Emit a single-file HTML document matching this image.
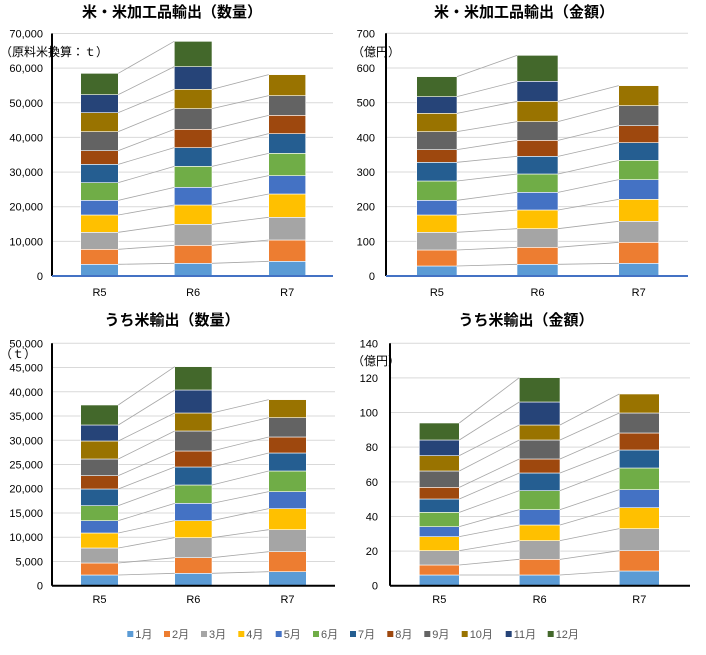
<!DOCTYPE html>
<html><head><meta charset="utf-8"><style>
body{margin:0;background:#fff;}
svg text{font-family:"Liberation Sans","Noto Sans CJK JP",sans-serif;}
</style></head><body>
<svg id="s" width="706" height="650" xmlns="http://www.w3.org/2000/svg"></svg>
<script>
const C=["#5B9BD5","#ED7D31","#A5A5A5","#FFC000","#4472C4","#70AD47","#255E91","#9E480E","#636363","#997300","#264478","#43682B"];
const charts=[
 {ox:0,oy:0,ax:52,top:33.5,bot:276,gx:333,ticks:["0","10,000","20,000","30,000","40,000","50,000","60,000","70,000"],lx:43,unit:"（原料米換算：ｔ）",uy:56,ux:0,us:12,title:"米・米加工品輸出（数量）",tx:172,ty:17,xy:296,baseCol:"#4472C4",
  bars:[[80.7,118.3],[174.3,212],[268.7,305.7]],
  b:[[828,793,748,697,645,601,548,493,452,395,338,284,220],[828,790,736,673,615,562,499,443,388,326,268,200,124],[828,784,720,652,582,527,460,401,346,287,224]]},
 {ox:350,oy:0,ax:386,top:33.3,bot:276,gx:688,ticks:["0","100","200","300","400","500","600","700"],lx:375,unit:"（億円）",uy:56,ux:352,us:12,title:"米・米加工品輸出（金額）",tx:524,ty:17,xy:296,baseCol:"#4472C4",
  bars:[[416.7,457],[517,558],[618.7,658.7]],
  b:[[828,798,750,697,645,601,543,487,449,395,340,290,230],[828,793,742,686,630,577,522,469,421,365,304,244,166],[828,790,727,664,598,539,481,428,377,317,257]]},
 {ox:0,oy:300,ax:52,top:343.3,bot:585.7,gx:335,ticks:["0","5,000","10,000","15,000","20,000","25,000","30,000","35,000","40,000","45,000","50,000"],lx:43,unit:"（ｔ）",uy:358,ux:0,us:12,title:"うち米輸出（数量）",tx:172,ty:325,xy:603,baseCol:"#000",
  bars:[[80.7,118.3],[174.7,212],[268.7,306.3]],
  b:[[857,825,789,744,699,662,617,567,527,477,423,375,315],[857,820,773,713,662,610,555,501,453,393,339,270,200],[857,815,755,689,626,575,513,459,411,353,299]]},
 {ox:350,oy:300,ax:390,top:343.3,bot:585.7,gx:690,ticks:["0","20","40","60","80","100","120","140"],lx:378,unit:"（億円）",uy:365,ux:352,us:12,title:"うち米輸出（金額）",tx:526,ty:325,xy:603,baseCol:"#000",
  bars:[[419.3,459.3],[519.3,560],[619.3,659.3]],
  b:[[857,825,795,752,710,680,637,597,562,513,467,420,369],[857,825,778,722,675,629,572,519,477,420,375,306,233],[857,813,752,686,623,569,504,450,399,339,282]]}
];
let h="";
for(const c of charts){
 const n=c.ticks.length-1;
 for(let i=0;i<=n;i++){const y=c.bot-(c.bot-c.top)*i/n;
  if(i>0)h+=`<line x1="${c.ax}" y1="${y}" x2="${c.gx}" y2="${y}" stroke="#d9d9d9" stroke-width="1"/>`;
  h+=`<text x="${c.lx}" y="${y+4}" font-size="11" text-anchor="end" fill="#000">${c.ticks[i]}</text>`;}
 const Y=c.b.map(a=>a.map(v=>c.oy+v/3));
 for(let j=0;j<3;j++){const [x1,x2]=c.bars[j];const a=Y[j];
  for(let k=1;k<a.length;k++)h+=`<rect x="${x1}" y="${a[k]}" width="${x2-x1}" height="${a[k-1]-a[k]}" fill="${C[k-1]}" stroke="#fff" stroke-width="0.6"/>`;}
 for(let j=0;j<2;j++){const a=Y[j],b=Y[j+1];const m=Math.min(a.length,b.length);
  for(let k=1;k<m;k++)h+=`<line x1="${c.bars[j][1]}" y1="${a[k]}" x2="${c.bars[j+1][0]}" y2="${b[k]}" stroke="#a6a6a6" stroke-width="0.8"/>`;}
 h+=`<line x1="${c.ax}" y1="${c.top}" x2="${c.ax}" y2="${c.bot}" stroke="#000" stroke-width="2"/>`;
 h+=`<line x1="${c.ax}" y1="${c.bot}" x2="${c.gx}" y2="${c.bot}" stroke="${c.baseCol}" stroke-width="2"/>`;
 ["R5","R6","R7"].forEach((t,j)=>{h+=`<text x="${(c.bars[j][0]+c.bars[j][1])/2}" y="${c.xy}" font-size="11" text-anchor="middle">${t}</text>`;});
 h+=`<text x="${c.ux}" y="${c.uy}" font-size="${c.us}">${c.unit}</text>`;
 h+=`<text x="${c.tx}" y="${c.ty}" font-size="15" font-weight="bold" text-anchor="middle">${c.title}</text>`;
}
const lx=[127.3,164,201,238.3,275.7,313,350,387.3,424.3,461.7,505.7,547.7];
lx.forEach((x,i)=>{h+=`<rect x="${x}" y="631" width="6" height="6" fill="${C[i]}"/><text x="${x+8}" y="638" font-size="11" fill="#595959">${i+1}月</text>`;});
document.getElementById("s").innerHTML=h;
</script>
</body></html>
